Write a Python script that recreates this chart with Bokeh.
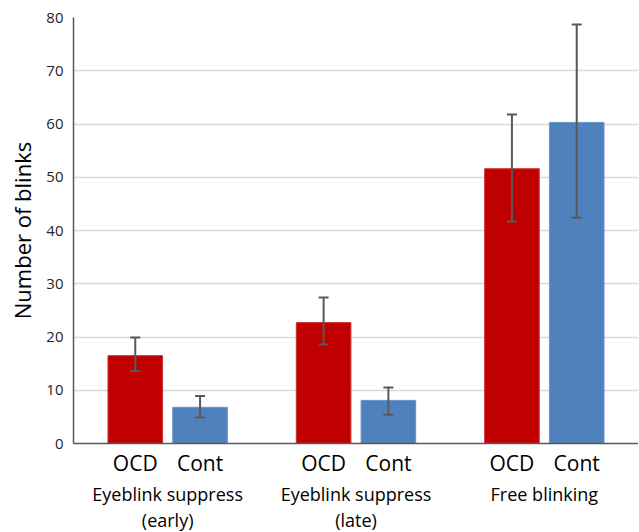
from bokeh.plotting import figure
from bokeh.models import ColumnDataSource, Whisker, LinearAxis, FixedTicker, Range1d, TeeHead
from bokeh.embed import file_html
from bokeh.resources import INLINE

groups = ["Eyeblink suppress\n(early)", "Eyeblink suppress\n(late)", "Free blinking"]
series = ["OCD", "Cont"]
ocd = [16.5, 22.7, 51.6]
ocd_lo = [13.6, 18.6, 41.7]
ocd_hi = [19.9, 27.4, 61.8]
cont = [6.8, 8.1, 60.3]
cont_lo = [4.9, 5.4, 42.4]
cont_hi = [8.9, 10.5, 78.7]
y_ticks = [0, 10, 20, 30, 40, 50, 60, 70, 80]

offset = 0.172
bw = 0.29
gx = list(range(len(groups)))
ocd_x = [g - offset for g in gx]
cont_x = [g + offset for g in gx]

FONT = "Open Sans"

p = figure(frame_width=565, frame_height=426, output_backend="svg", toolbar_location=None,
           x_range=Range1d(-0.5, 2.5), y_range=Range1d(0, 80),
           min_border_left=73, min_border_right=0, min_border_top=17, min_border_bottom=0,
           x_axis_location=None)
p.outline_line_color = None
p.background_fill_color = "white"

src_o = ColumnDataSource(dict(x=ocd_x, top=ocd, lo=ocd_lo, hi=ocd_hi))
src_c = ColumnDataSource(dict(x=cont_x, top=cont, lo=cont_lo, hi=cont_hi))
p.vbar(x="x", top="top", width=bw, source=src_o, fill_color="#C00000", line_color="#D03030", line_width=1)
p.vbar(x="x", top="top", width=bw, source=src_c, fill_color="#4F81BD", line_color="#6A96CC", line_width=1)

for src in (src_o, src_c):
    w = Whisker(base="x", lower="lo", upper="hi", source=src, line_color="#595959", line_width=2,
                upper_head=TeeHead(size=10, line_color="#595959", line_width=2),
                lower_head=TeeHead(size=10, line_color="#595959", line_width=2),
                level="overlay")
    p.add_layout(w)

p.xgrid.grid_line_color = None
p.ygrid.grid_line_color = "#D9D9D9"
p.ygrid.grid_line_width = 1.5
p.ygrid.ticker = FixedTicker(ticks=y_ticks)

ya = p.yaxis[0]
ya.ticker = FixedTicker(ticks=y_ticks)
ya.axis_label = "Number of blinks"
ya.axis_label_text_font = FONT
ya.axis_label_text_font_size = "22px"
ya.axis_label_text_font_style = "normal"
ya.axis_label_text_color = "black"
ya.axis_label_standoff = 6
ya.major_label_text_font = FONT
ya.major_label_text_font_size = "15px"
ya.major_label_text_color = "#262626"
ya.major_label_standoff = 10
ya.major_tick_out = 0
ya.major_tick_in = 0
ya.minor_tick_out = 0
ya.minor_tick_in = 0
ya.axis_line_color = "#595959"
ya.axis_line_width = 1.5

# bar-level axis
bar_pos = ocd_x + cont_x
overrides = {x: series[0] for x in ocd_x}
overrides.update({x: series[1] for x in cont_x})
xa = LinearAxis(ticker=FixedTicker(ticks=bar_pos), major_label_overrides=overrides)
xa.major_label_text_font = FONT
xa.major_label_text_font_size = "21px"
xa.major_label_text_color = "black"
xa.major_label_standoff = 5
xa.major_tick_out = 0
xa.major_tick_in = 0
xa.minor_tick_out = 0
xa.minor_tick_in = 0
xa.axis_line_color = "#595959"
xa.axis_line_width = 1.5
p.add_layout(xa, "below")

# group-level axis
ga = LinearAxis(ticker=FixedTicker(ticks=gx), major_label_overrides={g: groups[g] for g in gx})
ga.major_label_text_font = FONT
ga.major_label_text_font_size = "18px"
ga.major_label_text_color = "black"
ga.major_label_text_line_height = 1.1
ga.major_label_standoff = 2
ga.major_tick_out = 0
ga.major_tick_in = 0
ga.minor_tick_out = 0
ga.minor_tick_in = 0
ga.axis_line_color = None
p.add_layout(ga, "below")

open("out.html", "w").write(file_html(p, INLINE))
